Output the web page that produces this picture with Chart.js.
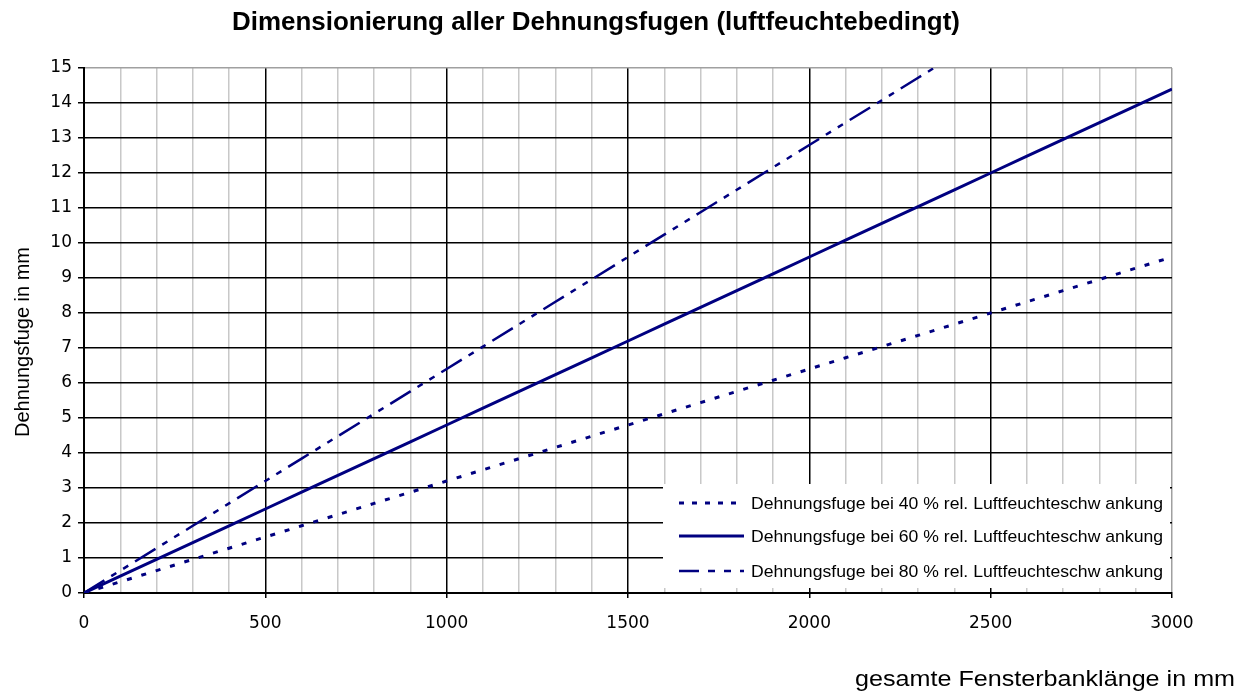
<!DOCTYPE html>
<html>
<head>
    <title>Dimensionierung aller Dehnungsfugen</title>
    <script src="https://cdn.jsdelivr.net/npm/chart.js"></script>
    <style>
        body { margin: 0; background: #fff; }
        #wrap { width: 1242px; height: 691px; }
    </style>
</head>
<body>
    <div id="wrap"><canvas id="chart"></canvas></div>

    <script>
        // Fensterbanklänge in mm
        var laenge = [0, 100, 200, 300, 400, 500, 600, 700, 800, 900, 1000, 1100, 1200, 1300, 1400, 1500,
            1600, 1700, 1800, 1900, 2000, 2100, 2200, 2300, 2400, 2500, 2600, 2700, 2800, 2900, 3000];

        // Dehnungsfuge in mm
        var fuge40 = [0, 0.32, 0.64, 0.96, 1.28, 1.6, 1.92, 2.24, 2.56, 2.88, 3.2, 3.52, 3.84, 4.16, 4.48, 4.8,
            5.12, 5.44, 5.76, 6.08, 6.4, 6.72, 7.04, 7.36, 7.68, 8.0, 8.32, 8.64, 8.96, 9.28, 9.6];
        var fuge60 = [0, 0.48, 0.96, 1.44, 1.92, 2.4, 2.88, 3.36, 3.84, 4.32, 4.8, 5.28, 5.76, 6.24, 6.72, 7.2,
            7.68, 8.16, 8.64, 9.12, 9.6, 10.08, 10.56, 11.04, 11.52, 12.0, 12.48, 12.96, 13.44, 13.92, 14.4];
        var fuge80 = [0, 0.64, 1.28, 1.92, 2.56, 3.2, 3.84, 4.48, 5.12, 5.76, 6.4, 7.04, 7.68, 8.32, 8.96, 9.6,
            10.24, 10.88, 11.52, 12.16, 12.8, 13.44, 14.08, 14.72, 15.36, 16.0, 16.64, 17.28, 17.92, 18.56, 19.2];

        var reihen = [
            "Dehnungsfuge bei 40 % rel. Luftfeuchteschw ankung",
            "Dehnungsfuge bei 60 % rel. Luftfeuchteschw ankung",
            "Dehnungsfuge bei 80 % rel. Luftfeuchteschw ankung"
        ];

        var titel = "Dimensionierung aller Dehnungsfugen (luftfeuchtebedingt)";
        var xTitel = "gesamte Fensterbanklänge in mm";
        var yTitel = "Dehnungsfuge in mm";

        var navy = "#000080";
        var schrift = "'Liberation Sans', Arial, sans-serif";
        var ziffern = "'DejaVu Sans', sans-serif";

        function punkte(werte) {
            return laenge.map((x, i) => ({ x: x, y: werte[i] }));
        }

        // Text auf eine bestimmte Breite stauchen/strecken (die Vorlage hat eine Bitmap-Schrift)
        function textBreit(c, text, x, y, breite, ausrichtung) {
            var w = c.measureText(text).width;
            var f = breite / w;
            var links = ausrichtung === 'center' ? x - breite / 2 : (ausrichtung === 'right' ? x - breite : x);
            c.save();
            c.textAlign = 'left';
            c.translate(links, y);
            c.scale(f, 1);
            c.fillText(text, 0, 0);
            c.restore();
        }

        // Titel, Achsentitel und Legende im Diagramm zeichnen
        var texte = {
            id: 'texte',
            afterDraw(chart) {
                var c = chart.ctx;
                c.save();
                c.fillStyle = '#000';
                c.textBaseline = 'alphabetic';

                c.font = "bold 26px " + schrift;
                textBreit(c, titel, 596, 30, 728, 'center');

                c.font = "22px " + schrift;
                textBreit(c, xTitel, 1235, 686, 380, 'right');

                // y-Achsentitel, gedreht
                c.save();
                c.translate(29, 342);
                c.rotate(-Math.PI / 2);
                c.font = "21px " + schrift;
                textBreit(c, yTitel, 0, 0, 190, 'center');
                c.restore();

                // Legende
                c.fillStyle = '#fff';
                c.fillRect(663, 484, 507, 104);
                chart.data.datasets.forEach((ds, i) => {
                    var y = [503, 536, 571][i];
                    c.strokeStyle = ds.borderColor;
                    c.lineWidth = ds.borderWidth;
                    c.setLineDash(ds.legendDash);
                    c.beginPath();
                    c.moveTo(679, y);
                    c.lineTo(744, y);
                    c.stroke();
                    c.setLineDash([]);
                    c.fillStyle = '#000';
                    c.font = "17px " + schrift;
                    textBreit(c, ds.label, 751, y + 6, 412, 'left');
                });
                c.restore();
            }
        };

        var ctx = document.getElementById('chart').getContext('2d');
        new Chart(ctx, {
            type: 'line',
            data: {
                datasets: [
                    {
                        label: reihen[0],
                        data: punkte(fuge40),
                        borderColor: navy,
                        borderWidth: 3,
                        borderDash: [5, 10],
                        legendDash: [5, 8]
                    },
                    {
                        label: reihen[1],
                        data: punkte(fuge60),
                        borderColor: navy,
                        borderWidth: 3,
                        borderDash: [],
                        legendDash: []
                    },
                    {
                        label: reihen[2],
                        data: punkte(fuge80),
                        borderColor: navy,
                        borderWidth: 2.5,
                        borderDash: [24, 8, 6, 8, 6, 8],
                        legendDash: [20, 9, 7, 9, 7, 9]
                    }
                ]
            },
            options: {
                responsive: true,
                maintainAspectRatio: false,
                animation: false,
                layout: { padding: { top: 68, right: 70, left: 0, bottom: 0 } },
                elements: { point: { radius: 0 }, line: { tension: 0 } },
                plugins: {
                    legend: { display: false },
                    title: { display: false },
                    tooltip: { enabled: false }
                },
                scales: {
                    x: {
                        type: 'linear',
                        min: 0,
                        max: 3000,
                        afterFit: s => { s.height = 98; },
                        ticks: {
                            stepSize: 100,
                            autoSkip: false,
                            maxRotation: 0,
                            padding: 15,
                            color: '#000',
                            font: { family: ziffern, size: 17 },
                            callback: v => v % 500 === 0 ? v : ''
                        },
                        grid: {
                            color: c => c.tick.value === 3000 ? '#a0a0a0' : (c.tick.value % 500 === 0 ? '#000' : '#c8c8c8'),
                            lineWidth: 1.5,
                            tickLength: 5,
                            tickColor: c => c.tick.value % 500 === 0 ? '#000' : 'rgba(0,0,0,0)'
                        },
                        border: { color: '#000', width: 2 }
                    },
                    y: {
                        min: 0,
                        max: 15,
                        afterFit: s => { s.width = 84; },
                        ticks: {
                            stepSize: 1,
                            padding: 6,
                            color: '#000',
                            font: { family: ziffern, size: 17 }
                        },
                        grid: {
                            color: c => c.tick.value === 15 ? '#a0a0a0' : '#000',
                            lineWidth: 1.5,
                            tickLength: 6,
                            tickColor: '#000'
                        },
                        border: { color: '#000', width: 2 }
                    }
                }
            },
            plugins: [texte]
        });
    </script>
</body>
</html>
